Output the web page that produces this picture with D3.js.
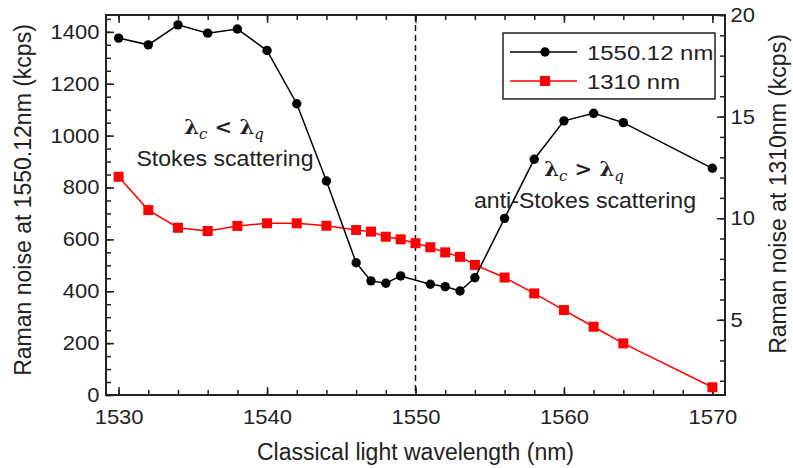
<!DOCTYPE html>
<meta charset='utf-8'>
<title>Raman noise vs classical wavelength</title>
<style>
body {
  margin: 0;
  background-color: #fff;
}
</style>
<svg width="793" height="468" font-family="Liberation Sans, Arial, sans-serif" fill="#222"></svg>
<script src="https://d3js.org/d3.v7.min.js"></script>
<script>

// black series, read against the left axis (kcps)
var waveBlack = [1530, 1532, 1534, 1536, 1538, 1540, 1542, 1544, 1546, 1547, 1548,
                 1549, 1551, 1552, 1553, 1554, 1556, 1558, 1560, 1562, 1564, 1570];
var noise1550 = [1376, 1350, 1427, 1395, 1411, 1328, 1123, 825, 510, 440, 431,
                 459, 427, 418, 401, 452, 681, 909, 1057, 1086, 1050, 874];

// red series, read against the right axis (kcps)
var waveRed = [1530, 1532, 1534, 1536, 1538, 1540, 1542, 1544, 1546, 1547, 1548,
               1549, 1550, 1551, 1552, 1553, 1554, 1556, 1558, 1560, 1562, 1564, 1570];
var noise1310 = [12.04, 10.4, 9.53, 9.37, 9.62, 9.75, 9.75, 9.63, 9.42, 9.34, 9.09,
                 8.96, 8.77, 8.57, 8.32, 8.1, 7.7, 7.08, 6.3, 5.48, 4.66, 3.84, 1.68];

var xTicks = [1530, 1540, 1550, 1560, 1570];
var leftTicks = [0, 200, 400, 600, 800, 1000, 1200, 1400];
var rightTicks = [5, 10, 15, 20];
var seriesNames = ["1550.12 nm", "1310 nm"];

var svg = d3.select("svg");
var margin = {top: 15, right: 68, bottom: 73, left: 106};
var width = 793 - margin.left - margin.right,
    height = 468 - margin.top - margin.bottom;

var g = svg.append("g")
    .attr("transform", "translate(" + margin.left + "," + margin.top + ")");

var x = d3.scaleLinear().domain([1529.15, 1570.85]).range([0, width]);
var yL = d3.scaleLinear().domain([0, 1465]).range([height, 0]);
var yR = d3.scaleLinear().domain([1.3, 20]).range([height, 0]);

// the reference type is set a little wide, so stretch text sideways
function stretched(sel, x0, y0, sx) {
  return sel.attr("transform", "translate(" + x0 + "," + y0 + ") scale(" + sx + ",1)");
}

// minor ticks first, then major ones with labels
function minor(axis, vals) {
  return axis.tickValues(vals).tickSize(-5).tickFormat("");
}
var xMinor = d3.range(1530, 1571, 2);
var lMinor = d3.range(0, 1451, 50);
var rMinor = d3.range(2, 21, 1);

g.append("g").attr("transform", "translate(0," + height + ")").call(minor(d3.axisBottom(x), xMinor));
g.append("g").call(minor(d3.axisTop(x), xMinor));
g.append("g").call(minor(d3.axisLeft(yL), lMinor));
g.append("g").attr("transform", "translate(" + width + ",0)").call(minor(d3.axisRight(yR), rMinor));

g.append("g")
    .attr("class", "axis")
    .attr("transform", "translate(0," + height + ")")
    .call(d3.axisBottom(x).tickValues(xTicks).tickSize(-8).tickPadding(15).tickFormat(d3.format("d")));
g.append("g")
    .call(d3.axisTop(x).tickValues(xTicks).tickSize(-8).tickFormat(""));
g.append("g")
    .attr("class", "axis")
    .call(d3.axisLeft(yL).tickValues(leftTicks).tickSize(-8).tickPadding(6).tickFormat(d3.format("d")));
g.append("g")
    .attr("class", "axis")
    .attr("transform", "translate(" + width + ",0)")
    .call(d3.axisRight(yR).tickValues(rightTicks).tickSize(-8).tickPadding(5));

g.selectAll(".domain").remove();
g.selectAll(".tick line").attr("stroke", "#222").attr("stroke-width", 1.5);
g.selectAll(".axis text")
    .attr("font-family", "Liberation Sans, Arial, sans-serif")
    .attr("font-size", 20)
    .attr("fill", "#222")
    .attr("transform", "scale(1.1,1)");

// frame
g.append("rect")
    .attr("width", width)
    .attr("height", height)
    .attr("fill", "none")
    .attr("stroke", "#222")
    .attr("stroke-width", 2);

// dashed line at 1550 nm
g.append("line")
    .attr("x1", x(1550)).attr("x2", x(1550))
    .attr("y1", 0).attr("y2", height)
    .attr("stroke", "#111")
    .attr("stroke-width", 1.5)
    .attr("stroke-dasharray", "6,4");

// red series
var redLine = d3.line()
    .x(function(d) { return x(d[0]); })
    .y(function(d) { return yR(d[1]); });
var redData = d3.zip(waveRed, noise1310);
g.append("path")
    .attr("d", redLine(redData))
    .attr("fill", "none")
    .attr("stroke", "#f00")
    .attr("stroke-width", 1.5);
g.selectAll("rect.red")
    .data(redData)
  .enter().append("rect")
    .attr("class", "red")
    .attr("x", function(d) { return x(d[0]) - 5; })
    .attr("y", function(d) { return yR(d[1]) - 5; })
    .attr("width", 10).attr("height", 10)
    .attr("fill", "#f00");

// black series
var blackLine = d3.line()
    .x(function(d) { return x(d[0]); })
    .y(function(d) { return yL(d[1]); });
var blackData = d3.zip(waveBlack, noise1550);
g.append("path")
    .attr("d", blackLine(blackData))
    .attr("fill", "none")
    .attr("stroke", "#000")
    .attr("stroke-width", 1.5);
g.selectAll("circle.black")
    .data(blackData)
  .enter().append("circle")
    .attr("class", "black")
    .attr("cx", function(d) { return x(d[0]); })
    .attr("cy", function(d) { return yL(d[1]); })
    .attr("r", 4.7)
    .attr("fill", "#000");

// axis titles
svg.append("text")
    .attr("x", margin.left + width / 2)
    .attr("y", 460)
    .attr("text-anchor", "middle")
    .attr("font-size", 23)
    .text("Classical light wavelength (nm)");

svg.append("text")
    .attr("transform", "translate(31,200) rotate(-90)")
    .attr("text-anchor", "middle")
    .attr("font-size", 23)
    .text("Raman noise at 1550.12nm (kcps)");

svg.append("text")
    .attr("transform", "translate(786,194) rotate(-90)")
    .attr("text-anchor", "middle")
    .attr("font-size", 23)
    .text("Raman noise at 1310nm (kcps)");

// annotations
function lambdaLabel(cx, cy, op) {
  var t = svg.append("text")
      .attr("x", cx).attr("y", cy)
      .attr("text-anchor", "middle")
      .attr("font-family", "DejaVu Serif, Liberation Serif, serif")
      .attr("font-weight", "bold")
      .attr("font-size", 21);
  t.append("tspan").text("\u03bb");
  t.append("tspan").attr("font-style", "italic").attr("font-weight", "normal")
      .attr("font-size", 15).attr("dy", 5).text("c");
  t.append("tspan").attr("dy", -5).text(" " + op + " \u03bb");
  t.append("tspan").attr("font-style", "italic").attr("font-weight", "normal")
      .attr("font-size", 15).attr("dy", 5).text("q");
}
lambdaLabel(224, 134, "<");
lambdaLabel(584, 176, ">");

stretched(svg.append("text"), 225, 166, 1.05)
    .attr("text-anchor", "middle")
    .attr("font-size", 22)
    .text("Stokes scattering");

stretched(svg.append("text"), 585, 208, 1.05)
    .attr("text-anchor", "middle")
    .attr("font-size", 22)
    .text("anti-Stokes scattering");

// legend
var legend = svg.append("g").attr("transform", "translate(503,33)");
legend.append("rect")
    .attr("width", 212).attr("height", 66)
    .attr("fill", "#fff")
    .attr("stroke", "#222")
    .attr("stroke-width", 1.5);

var legendColors = ["#000", "#f00"];
seriesNames.forEach(function(name, i) {
  var yy = 19 + i * 29;
  legend.append("line")
      .attr("x1", 7).attr("x2", 74)
      .attr("y1", yy).attr("y2", yy)
      .attr("stroke", legendColors[i])
      .attr("stroke-width", 1.5);
  if (i === 0) {
    legend.append("circle").attr("cx", 42).attr("cy", yy).attr("r", 4.7).attr("fill", "#000");
  } else {
    legend.append("rect").attr("x", 37).attr("y", yy - 5).attr("width", 10).attr("height", 10).attr("fill", "#f00");
  }
  stretched(legend.append("text"), 84, yy + 8, 1.14)
      .attr("font-size", 21)
      .text(name);
});

</script>
